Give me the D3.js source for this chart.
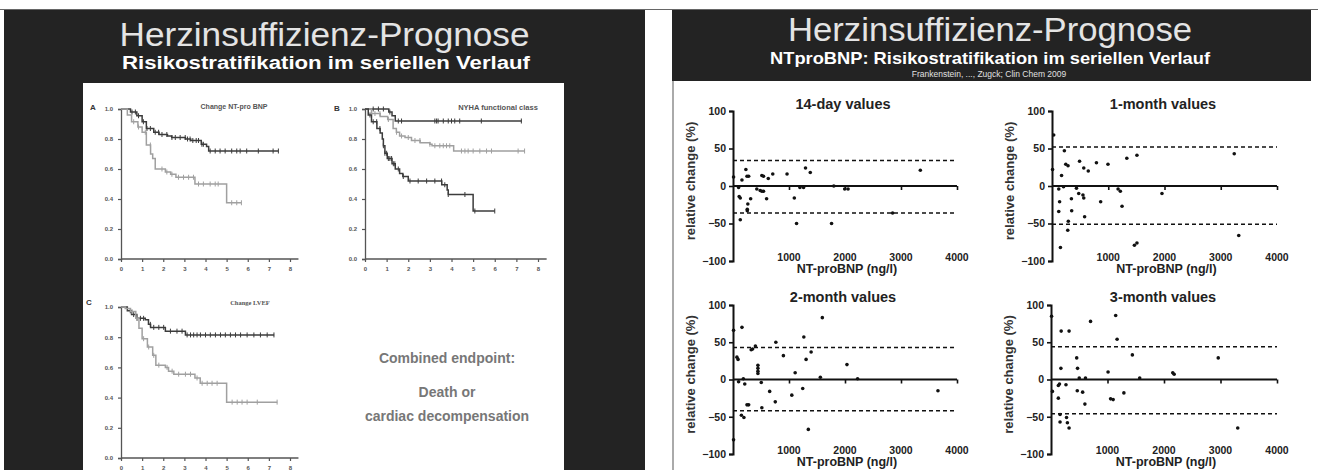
<!DOCTYPE html>
<html>
<head>
<meta charset="utf-8">
<script src="https://cdn.jsdelivr.net/npm/d3@7"></script>
<style>
  body { margin: 0; background: #fff; }
  svg { display: block; font-family: "Liberation Sans", Arial, sans-serif; }
</style>
</head>
<body>
<svg id="chart" width="1318" height="470"></svg>
<script>
// ---------- data: Kaplan-Meier panels (left slide) ----------
const kmYTicks = [0, 0.2, 0.4, 0.6, 0.8, 1.0]
const kmXTicks = [0, 1, 2, 3, 4, 5, 6, 7, 8]

// A: change NT-pro BNP  [time, survival]
const kmA_stable = [[0,1],[0.45,0.98],[0.75,0.955],[1.0,0.915],[1.2,0.87],[1.55,0.845],[1.8,0.83],[2.2,0.82],[2.4,0.81],[3.05,0.80],[3.3,0.79],[3.8,0.765],[4.05,0.75],[4.15,0.72],[7.45,0.72]]
const kmA_stableCens = [0.52,0.68,0.83,1.06,1.23,1.39,1.62,1.78,1.94,2.17,2.41,2.57,2.8,3.04,3.15,3.27,3.4,3.56,3.67,3.83,3.9,4.22,4.46,4.69,4.93,5.24,5.48,5.64,5.95,6.5,7.2,7.45]
const kmA_rising = [[0,1],[0.3,0.96],[0.5,0.915],[0.8,0.88],[1.0,0.845],[1.2,0.76],[1.4,0.70],[1.5,0.67],[1.62,0.60],[2.1,0.58],[2.35,0.565],[2.6,0.545],[3.5,0.50],[5.0,0.375],[5.7,0.375]]
const kmA_risingCens = [0.6,0.83,1.15,1.39,1.94,2.17,2.41,2.72,2.96,3.2,3.43,3.67,3.9,4.22,4.46,4.6,5.24,5.48,5.7]

// B: NYHA functional class
const kmB_I = [[0,1],[1.0,1],[1.1,0.98],[1.25,0.955],[1.4,0.92],[7.25,0.92]]
const kmB_ICens = [0.38,0.62,0.85,1.15,1.54,1.69,3.23,3.31,3.38,3.62,3.85,4.0,4.15,4.38,5.38,7.23]
const kmB_II = [[0,1],[0.3,0.97],[0.7,0.95],[1.05,0.93],[1.3,0.87],[1.45,0.845],[1.6,0.82],[1.85,0.81],[2.15,0.79],[2.55,0.775],[3.0,0.765],[3.1,0.755],[4.1,0.72],[7.4,0.72]]
const kmB_IICens = [0.46,0.69,1.08,1.46,1.69,2.0,2.31,2.54,3.0,3.23,3.46,3.62,3.77,3.92,4.46,4.62,4.77,5.0,5.31,5.62,5.85,7.08,7.38]
const kmB_III = [[0,1],[0.15,0.96],[0.3,0.915],[0.55,0.87],[0.7,0.84],[0.8,0.80],[0.85,0.755],[0.92,0.705],[1.03,0.67],[1.25,0.635],[1.4,0.60],[1.6,0.57],[1.75,0.55],[2.0,0.52],[3.55,0.495],[3.8,0.46],[3.85,0.43],[5.0,0.32],[6.0,0.32]]
const kmB_IIICens = [0.23,0.38,0.54,0.69,0.85,0.92,1.0,1.08,1.15,1.23,1.31,1.38,1.54,1.77,2.08,2.46,2.85,3.23,3.54,3.69,3.85,4.62,5.08,6.0]

// C: change LVEF
const kmC_stable = [[0,1],[0.3,0.975],[0.5,0.95],[0.75,0.925],[1.15,0.915],[1.3,0.885],[1.4,0.865],[2.1,0.84],[3.05,0.815],[7.25,0.815]]
const kmC_stableCens = [0.44,0.6,0.76,0.92,1.07,1.39,1.55,1.79,2.02,2.34,2.65,2.89,3.13,3.29,3.44,3.6,3.76,4.0,4.23,4.47,4.71,4.94,5.18,5.42,5.66,5.97,6.29,6.6,6.92,7.24]
const kmC_decline = [[0,1],[0.2,0.99],[0.45,0.97],[0.7,0.925],[0.85,0.86],[1.0,0.79],[1.25,0.735],[1.5,0.68],[1.65,0.615],[2.1,0.60],[2.25,0.575],[2.5,0.555],[3.5,0.53],[3.75,0.495],[5.0,0.37],[7.4,0.37]]
const kmC_declineCens = [0.52,0.76,1.07,1.31,1.55,1.79,2.18,2.42,2.73,3.05,3.29,3.6,3.84,4.08,4.31,4.55,5.26,5.5,5.73,5.97,6.45,7.39]

// ---------- data: NT-proBNP scatter panels (right slide) ----------
const scatterTitles = ["14-day values", "1-month values", "2-month values", "3-month values"]
const scatterXTicks = [1000, 2000, 3000, 4000]
const scatterYTicks = [-100, -50, 0, 50, 100]

// [NT-proBNP ng/l, relative change %]
const day14 = [[10,12],[100,-2],[110,-14],[130,-16],[160,8],[130,-45],[230,22],[250,13],[280,13],[265,-24],[255,-31],[255,-33],[315,-17],[425,-4],[485,-6],[515,14],[545,13],[545,-7],[515,-7],[600,-17],[630,10],[710,16],[965,16],[1095,-16],[1135,-50],[1195,-2],[1260,-2],[1295,24],[1380,18],[1800,0],[1760,-50],[1995,-4],[2055,-4],[2850,-36],[3345,21]]
const day14Limits = [34, -36]

const month1 = [[30,68],[10,22],[120,-4],[135,-21],[120,-34],[150,-82],[170,14],[205,-1],[220,47],[245,29],[285,27],[345,-17],[350,-33],[290,-47],[280,-59],[435,-3],[475,-10],[490,33],[565,24],[550,-12],[565,-16],[580,-41],[645,20],[790,31],[865,-21],[995,29],[1175,-4],[1215,-7],[1245,-27],[1330,37],[1465,-79],[1510,-76],[1510,41],[1955,-10],[3240,43],[3320,-66]]
const month1Limits = [52, -51]

const month2 = [[10,66],[10,-81],[70,30],[90,27],[100,-3],[160,70],[150,-48],[195,-51],[185,1],[210,-6],[250,-34],[280,-34],[325,40],[350,41],[400,45],[445,19],[445,15],[445,11],[445,8],[505,-4],[515,-38],[655,-16],[755,-30],[765,50],[900,32],[1050,-21],[1110,9],[1245,-12],[1265,57],[1305,27],[1345,-67],[1395,37],[1560,3],[1595,83],[2035,20],[2225,1],[3660,-15]]
const month2Limits = [43, -42]

const month3 = [[10,85],[25,-16],[130,-25],[130,-8],[150,-6],[160,-47],[160,-57],[180,65],[175,15],[265,-7],[320,65],[275,-51],[290,-58],[320,-65],[455,29],[470,15],[465,-15],[500,2],[560,-17],[600,-33],[610,2],[700,78],[1010,10],[1055,-26],[1100,-27],[1145,86],[1170,54],[1290,-18],[1440,33],[1570,2],[2155,9],[2180,7],[2960,29],[3305,-65]]
const month3Limits = [44, -46]

// ---------- drawing ----------
const svg = d3.select("#chart")
const dark = "#232323"
const kmDark = "#3c3c3c"
const kmLight = "#a0a0a0"

// top hairline across the page
svg.append("line").attr("x1", 0).attr("x2", 1318).attr("y1", 9.5).attr("y2", 9.5)
    .attr("stroke", "#666").attr("stroke-width", 1)

// ===== left slide =====
svg.append("rect").attr("x", 4).attr("y", 10).attr("width", 641).attr("height", 460).attr("fill", dark)
svg.append("text").attr("x", 324.5).attr("y", 46).attr("text-anchor", "middle")
    .attr("font-size", 34).attr("fill", "#e4e4e4")
    .attr("textLength", 410).attr("lengthAdjust", "spacingAndGlyphs")
    .text("Herzinsuffizienz-Prognose")
svg.append("text").attr("x", 326).attr("y", 69).attr("text-anchor", "middle")
    .attr("font-size", 18).attr("font-weight", "bold").attr("fill", "#fff")
    .attr("textLength", 408).attr("lengthAdjust", "spacingAndGlyphs")
    .text("Risikostratifikation im seriellen Verlauf")
svg.append("rect").attr("x", 83).attr("y", 83).attr("width", 481).attr("height", 387).attr("fill", "#fff")

function survAt(pts, t) {
    let s = pts[0][1]
    pts.forEach(p => { if (p[0] <= t) s = p[1] })
    return s
}

const kmPanels = [
    { letter: "A", lx: 93, ly: 110, title: "Change NT-pro BNP", tx: 234, ty: 109, tsize: 7, tfont: "Liberation Sans",
      x0: 121, x1: 290, yTop: 109, yBot: 259,
      curves: [[kmA_stable, kmA_stableCens, kmDark], [kmA_rising, kmA_risingCens, kmLight]] },
    { letter: "B", lx: 337, ly: 111, title: "NYHA functional class", tx: 498, ty: 110, tsize: 7.5, tfont: "Liberation Sans",
      x0: 365, x1: 538, yTop: 109, yBot: 259,
      curves: [[kmB_I, kmB_ICens, kmDark], [kmB_II, kmB_IICens, kmLight], [kmB_III, kmB_IIICens, kmDark]] },
    { letter: "C", lx: 89, ly: 305, title: "Change LVEF", tx: 250, ty: 305, tsize: 6.5, tfont: "Liberation Serif",
      x0: 121, x1: 290, yTop: 307, yBot: 458,
      curves: [[kmC_stable, kmC_stableCens, kmDark], [kmC_decline, kmC_declineCens, kmLight]] }
]

kmPanels.forEach(p => {
    const g = svg.append("g")
    const x = d3.scaleLinear().domain([0, 8]).range([p.x0, p.x1])
    const y = d3.scaleLinear().domain([0, 1]).range([p.yBot, p.yTop])

    g.append("g").attr("transform", `translate(0,${p.yBot})`)
        .call(d3.axisBottom(x).tickValues(kmXTicks).tickSize(3).tickPadding(5).tickFormat(d3.format("d")))
        .call(a => a.select(".domain").attr("d", `M${p.x0},0H${x(8.4)}`))
    g.append("g").attr("transform", `translate(${p.x0},0)`)
        .call(d3.axisLeft(y).tickValues(kmYTicks).tickSize(3).tickPadding(5).tickFormat(d3.format(".1f")))
    g.selectAll(".domain").attr("stroke", "#555").attr("stroke-width", 1.3)
    g.selectAll(".tick line").attr("stroke", "#555").attr("stroke-width", 1.2)
    g.selectAll(".tick text").attr("font-size", 6).attr("font-weight", "bold").attr("fill", "#555")
        .attr("font-family", "Liberation Sans")

    const line = d3.line().x(d => x(d[0])).y(d => y(d[1])).curve(d3.curveStepAfter)
    p.curves.forEach(([pts, cens, color]) => {
        g.append("path").datum(pts).attr("d", line).attr("fill", "none")
            .attr("stroke", color).attr("stroke-width", 1.5)
        g.selectAll(null).data(cens).enter().append("line")
            .attr("x1", d => x(d)).attr("x2", d => x(d))
            .attr("y1", d => y(survAt(pts, d)) - 2.5).attr("y2", d => y(survAt(pts, d)) + 2.5)
            .attr("stroke", color).attr("stroke-width", 1)
    })

    g.append("text").attr("x", p.lx).attr("y", p.ly).attr("text-anchor", "middle")
        .attr("font-size", 8).attr("font-weight", "bold").attr("fill", "#333").text(p.letter)
    g.append("text").attr("x", p.tx).attr("y", p.ty).attr("text-anchor", "middle")
        .attr("font-family", p.tfont).attr("font-size", p.tsize).attr("font-weight", "bold")
        .attr("fill", "#555").text(p.title)
})

const endpoint = ["Combined endpoint:", "Death or", "cardiac decompensation"]
const endpointY = [363, 397, 421]
svg.selectAll(".endpoint").data(endpoint).enter().append("text")
    .attr("x", 447).attr("y", (d, i) => endpointY[i]).attr("text-anchor", "middle")
    .attr("font-size", 14).attr("font-weight", "bold").attr("fill", "#777").text(d => d)

// ===== right slide =====
svg.append("rect").attr("x", 672).attr("y", 10).attr("width", 639).attr("height", 71).attr("fill", dark)
svg.append("line").attr("x1", 673).attr("x2", 673).attr("y1", 81).attr("y2", 470)
    .attr("stroke", "#aaa").attr("stroke-width", 2)
svg.append("text").attr("x", 990).attr("y", 41).attr("text-anchor", "middle")
    .attr("font-size", 33).attr("fill", "#e4e4e4")
    .attr("textLength", 404).attr("lengthAdjust", "spacingAndGlyphs")
    .text("Herzinsuffizienz-Prognose")
svg.append("text").attr("x", 990).attr("y", 64).attr("text-anchor", "middle")
    .attr("font-size", 17).attr("font-weight", "bold").attr("fill", "#fff")
    .attr("textLength", 440).attr("lengthAdjust", "spacingAndGlyphs")
    .text("NTproBNP: Risikostratifikation im seriellen Verlauf")
svg.append("text").attr("x", 989).attr("y", 77).attr("text-anchor", "middle")
    .attr("font-size", 8.5).attr("fill", "#e0e0e0")
    .text("Frankenstein, ..., Zugck; Clin Chem 2009")

const scatterSets = [[day14, day14Limits], [month1, month1Limits], [month2, month2Limits], [month3, month3Limits]]
const scatterBoxes = [
    { x0: 733, x1: 957, yTop: 111, yBot: 261, tx: 843, ty: 109 },
    { x0: 1052, x1: 1277, yTop: 111, yBot: 261, tx: 1163, ty: 109 },
    { x0: 733, x1: 957, yTop: 305, yBot: 454, tx: 843, ty: 302 },
    { x0: 1051, x1: 1277, yTop: 305, yBot: 454, tx: 1163, ty: 302 }
]

scatterSets.forEach(([pts, limits], i) => {
    const b = scatterBoxes[i]
    const g = svg.append("g")
    const x = d3.scaleLinear().domain([0, 4000]).range([b.x0, b.x1])
    const y = d3.scaleLinear().domain([-100, 100]).range([b.yBot, b.yTop])

    // limit lines
    g.selectAll(null).data(limits).enter().append("line")
        .attr("x1", x(0)).attr("x2", x(4000)).attr("y1", d => y(d)).attr("y2", d => y(d))
        .attr("stroke", "#111").attr("stroke-width", 1.6).attr("stroke-dasharray", "4,3")

    // y axis
    g.append("g").attr("transform", `translate(${b.x0},0)`)
        .call(d3.axisLeft(y).tickValues(scatterYTicks).tickSize(4).tickPadding(3))
    // x axis along zero, labels at the bottom
    g.append("g").attr("transform", `translate(0,${y(0)})`)
        .call(d3.axisBottom(x).tickValues(scatterXTicks).tickSize(4).tickFormat(""))
        .call(a => a.select(".domain").attr("d", `M${b.x0},0H${b.x1}`))
    g.selectAll(".domain").attr("stroke", "#111").attr("stroke-width", 2)
    g.selectAll(".tick line").attr("stroke", "#111").attr("stroke-width", 1.6)
    g.selectAll(".tick text").attr("font-size", 10.5).attr("font-weight", "bold").attr("fill", "#222")
        .attr("font-family", "Liberation Sans")

    g.selectAll(null).data(scatterXTicks).enter().append("text")
        .attr("x", d => x(d)).attr("y", b.yBot).attr("text-anchor", "middle")
        .attr("font-size", 10.5).attr("font-weight", "bold").attr("fill", "#222").text(d => d)

    g.selectAll(null).data(pts).enter().append("circle")
        .attr("cx", d => x(d[0])).attr("cy", d => y(d[1])).attr("r", 1.8).attr("fill", "#111")

    g.append("text").attr("x", b.tx).attr("y", b.ty).attr("text-anchor", "middle")
        .attr("font-size", 14.5).attr("font-weight", "bold").attr("fill", "#222").text(scatterTitles[i])
    g.append("text").attr("transform", `translate(${b.x0 - 38},${(b.yTop + b.yBot) / 2 - 5}) rotate(-90)`)
        .attr("text-anchor", "middle").attr("font-size", 13).attr("font-weight", "bold").attr("fill", "#333")
        .text("relative change (%)")
    g.append("text").attr("x", (b.x0 + b.x1) / 2 + 2).attr("y", b.yBot + 12).attr("text-anchor", "middle")
        .attr("font-size", 12.5).attr("font-weight", "bold").attr("fill", "#222").text("NT-proBNP (ng/l)")
})
</script>
</body>
</html>
